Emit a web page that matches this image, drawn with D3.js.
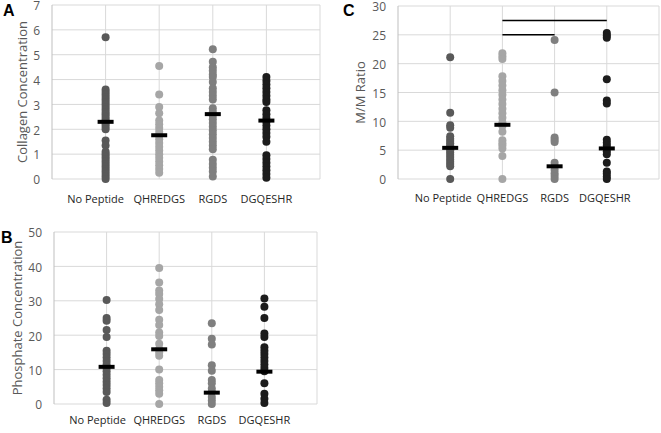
<!DOCTYPE html>
<html><head><meta charset="utf-8">
<script src="https://cdn.jsdelivr.net/npm/d3@7"></script>
<style>body{margin:0;background:#fff}svg{display:block}</style>
</head><body><svg id="c" width="661" height="433"></svg>
<script>
const categories = ["No Peptide", "QHREDGS", "RGDS", "DGQESHR"];
const colors = ["#595959", "#a6a6a6", "#7f7f7f", "#1c1c1c"];

// Panel A: Collagen Concentration
const collagenNoPeptide = [5.7,3.6,3.5,3.4,3.3,3.2,3.1,3.0,2.9,2.8,2.7,2.6,2.5,2.4,2.3,2.2,2.1,2.0,1.55,1.35,1.1,1.0,0.9,0.8,0.7,0.6,0.5,0.4,0.3,0.2,0.1,0.0];
const collagenQHREDGS = [4.55,3.4,2.9,2.65,2.35,2.2,2.05,1.9,1.75,1.6,1.45,1.3,1.15,1.0,0.85,0.7,0.55,0.4,0.25];
const collagenRGDS = [5.22,4.72,4.5,4.35,4.2,4.1,3.9,3.65,3.5,3.35,3.2,2.85,2.7,2.55,2.4,2.25,2.1,1.95,1.8,1.65,1.5,1.35,1.2,0.77,0.6,0.45,0.3,0.1];
const collagenDGQESHR = [4.1,3.95,3.8,3.65,3.5,3.35,3.2,3.1,2.77,2.6,2.45,2.3,2.15,2.0,1.85,1.7,1.5,0.96,0.8,0.65,0.5,0.35,0.2,0.05];
const collagenMeans = [2.3, 1.76, 2.61, 2.35];

// Panel B: Phosphate Concentration
const phosNoPeptide = [30.2,25.0,24.2,21.5,19.5,15.5,14.5,13.5,12.5,11.5,10.5,9.5,8.5,7.5,6.5,5.5,4.5,3.5,1.2,0.3];
const phosQHREDGS = [39.5,35.3,33.0,32.0,30.5,29.0,27.3,24.5,23.0,20.8,19.8,17.5,16.0,15.0,14.0,10.0,7.0,6.0,5.0,4.0,3.0,0.0];
const phosRGDS = [23.5,19.0,17.3,11.3,9.7,7.0,6.0,4.5,3.5,2.0,1.0,0.0];
const phosDGQESHR = [30.7,28.3,25.0,20.5,19.5,16.5,15.5,14.5,13.5,12.5,11.5,10.5,9.5,6.0,3.0,1.5,0.3];
const phosMeans = [10.8, 15.9, 3.3, 9.4];

// Panel C: M/M Ratio
const mmNoPeptide = [21.1,11.5,9.3,8.9,7.4,7.0,6.6,6.2,5.8,5.4,5.0,4.6,4.2,3.8,3.4,3.0,2.6,2.2,0.0];
const mmQHREDGS = [21.8,21.3,20.8,17.8,17.0,16.2,15.4,14.6,13.8,13.0,12.2,11.4,10.6,9.8,9.2,8.2,6.7,6.2,5.8,5.3,4.0,0.0];
const mmRGDS = [24.1,15.0,7.2,6.8,6.4,2.8,2.2,1.6,1.0,0.5,0.0];
const mmDGQESHR = [25.3,24.9,24.5,17.3,13.6,13.1,6.8,6.3,5.8,5.3,4.8,4.3,2.8,1.3,0.9,0.4,0.0];
const mmMeans = [5.4, 9.4, 2.2, 5.3];
const mmBrackets = [[2, 4, 27.5], [2, 3, 25]]; // [fromCategory, toCategory, y]

const yTicksA = [0,1,2,3,4,5,6,7];
const yTicksB = [0,10,20,30,40,50];
const yTicksC = [0,5,10,15,20,25,30];

const svg = d3.select("#c");
const FONT = "'Open Sans', sans-serif";

function panel(cfg) {
  const x = d3.scaleLinear().domain([0, 5]).range([cfg.left, cfg.right]);
  const y = d3.scaleLinear().domain([0, cfg.ymax]).range([cfg.bottom, cfg.top]);
  const g = svg.append("g");
  g.selectAll(".hg").data(cfg.ticks).join("line")
    .attr("x1", cfg.left).attr("x2", cfg.right)
    .attr("y1", d => y(d)).attr("y2", d => y(d))
    .attr("stroke", "#d9d9d9").attr("stroke-width", 1);
  g.selectAll(".vg").data([1,2,3,4,5]).join("line")
    .attr("x1", d => x(d)).attr("x2", d => x(d))
    .attr("y1", cfg.top).attr("y2", cfg.bottom)
    .attr("stroke", "#d9d9d9").attr("stroke-width", 1);
  g.append("line").attr("x1", cfg.left).attr("x2", cfg.left)
    .attr("y1", cfg.top).attr("y2", cfg.bottom).attr("stroke", "#bfbfbf");
  const ax = g.append("g").attr("transform", `translate(${cfg.left},0)`)
    .call(d3.axisLeft(y).tickValues(cfg.ticks).tickSize(0).tickPadding(12).tickFormat(d3.format("d")));
  ax.select(".domain").remove();
  ax.selectAll("text").attr("fill", "#595959").attr("dy", "0.4em")
    .style("font-family", FONT).style("font-size", "12px");
  g.selectAll(".cat").data(categories).join("text")
    .attr("x", (d, i) => x(i + 1) + cfg.catDx[i]).attr("y", cfg.catY)
    .attr("text-anchor", "middle").attr("fill", "#262626")
    .style("font-family", FONT).style("font-size", "11px").text(d => d);
  g.append("text").attr("transform", `translate(${cfg.titleX},${(cfg.top + cfg.bottom) / 2}) rotate(-90)`)
    .attr("text-anchor", "middle").attr("fill", "#595959")
    .style("font-family", FONT).style("font-size", "13px").text(cfg.title);
  g.append("text").attr("x", cfg.letterX).attr("y", cfg.letterY)
    .attr("fill", "#000").style("font-family", "'Liberation Sans', Arial, sans-serif").style("font-weight", "bold")
    .style("font-size", "16px").text(cfg.letter);
  (cfg.brackets || []).forEach(b => {
    g.append("line").attr("x1", x(b[0])).attr("x2", x(b[1]))
      .attr("y1", y(b[2])).attr("y2", y(b[2]))
      .attr("stroke", "#000").attr("stroke-width", 1.5);
  });
  cfg.series.forEach((vals, i) => {
    g.selectAll(null).data(vals).join("circle")
      .attr("cx", x(i + 1)).attr("cy", d => y(d)).attr("r", 4)
      .attr("fill", colors[i]);
  });
  g.selectAll(".mean").data(cfg.means).join("rect")
    .attr("x", (d, i) => x(i + 1) - 8).attr("y", d => y(d) - 2)
    .attr("width", 16).attr("height", 4).attr("fill", "#000");
}

panel({left: 52, right: 320, top: 5, bottom: 179, ymax: 7, ticks: yTicksA,
  series: [collagenNoPeptide, collagenQHREDGS, collagenRGDS, collagenDGQESHR], means: collagenMeans,
  catY: 203, catDx: [-10, 0, 0, 0], title: "Collagen Concentration", titleX: 27, letter: "A", letterX: 3, letterY: 16});
panel({left: 54, right: 317, top: 232, bottom: 404, ymax: 50, ticks: yTicksB,
  series: [phosNoPeptide, phosQHREDGS, phosRGDS, phosDGQESHR], means: phosMeans,
  catY: 424, catDx: [-9, 0, 0, 0], title: "Phosphate Concentration", titleX: 22, letter: "B", letterX: 1, letterY: 243});
panel({left: 398, right: 659, top: 6, bottom: 179, ymax: 30, ticks: yTicksC,
  series: [mmNoPeptide, mmQHREDGS, mmRGDS, mmDGQESHR], means: mmMeans, brackets: mmBrackets,
  catY: 202, catDx: [-7, 0, 0, -2], title: "M/M Ratio", titleX: 365, letter: "C", letterX: 343, letterY: 16});
</script></body></html>
